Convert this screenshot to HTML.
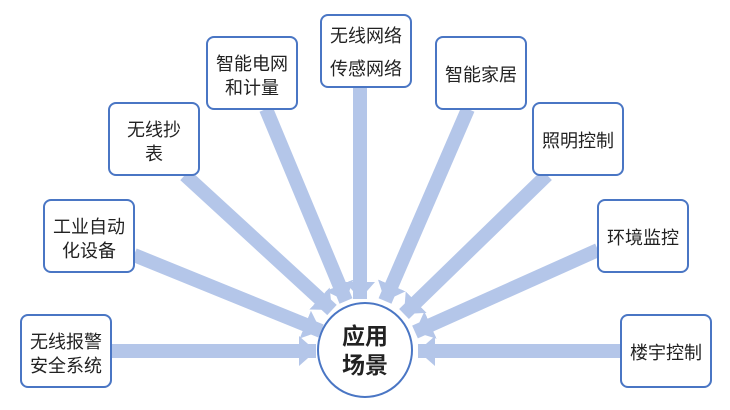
<!DOCTYPE html>
<html><head><meta charset="utf-8"><style>
html,body{margin:0;padding:0;background:#fff;}
svg{display:block;font-family:"Liberation Sans","Noto Sans CJK SC",sans-serif;}
</style></head><body>
<svg width="730" height="410" viewBox="0 0 730 410">
<defs>
<marker id="a" markerUnits="userSpaceOnUse" markerWidth="20" markerHeight="32" refX="17" refY="16" orient="auto">
<path d="M0,1 L17,16 L0,31 Z" fill="#b4c6e9"/>
</marker>
</defs>
<g stroke="#b4c6e9" stroke-width="14" fill="none" marker-end="url(#a)">
<line x1="111" y1="351" x2="316" y2="351"/>
<line x1="134" y1="255" x2="321" y2="331"/>
<line x1="185" y1="175" x2="332" y2="310"/>
<line x1="266" y1="109" x2="346" y2="301"/>
<line x1="360" y1="87" x2="360" y2="299"/>
<line x1="468" y1="109" x2="385" y2="301"/>
<line x1="547" y1="175" x2="404" y2="314"/>
<line x1="598" y1="250" x2="415" y2="332"/>
<line x1="621" y1="351" x2="418" y2="351"/>
</g>
<g fill="#fff" stroke="#4a76c4" stroke-width="2">
<rect x="21" y="315" width="90" height="72" rx="7"/>
<rect x="44" y="200" width="90" height="72" rx="7"/>
<rect x="109" y="103" width="90" height="72" rx="7"/>
<rect x="207" y="37" width="90" height="72" rx="7"/>
<rect x="321" y="15" width="90" height="72" rx="7"/>
<rect x="436" y="37" width="90" height="72" rx="7"/>
<rect x="533" y="103" width="90" height="72" rx="7"/>
<rect x="598" y="200" width="90" height="72" rx="7"/>
<rect x="621" y="315" width="90" height="72" rx="7"/>
<circle cx="365" cy="350" r="47"/>
</g>
<g font-size="18" fill="#222" text-anchor="middle">
<text x="66" y="348">无线报警</text><text x="66" y="372">安全系统</text>
<text x="89" y="233">工业自动</text><text x="89" y="257">化设备</text>
<text x="154" y="136">无线抄</text><text x="154" y="160">表</text>
<text x="252" y="70">智能电网</text><text x="252" y="94">和计量</text>
<text x="366" y="42">无线网络</text><text x="366" y="75">传感网络</text>
<text x="481" y="81">智能家居</text>
<text x="578" y="147">照明控制</text>
<text x="643" y="244">环境监控</text>
<text x="666" y="359">楼宇控制</text>
<text x="365" y="344" font-size="23" font-weight="bold">应用</text>
<text x="365" y="373" font-size="23" font-weight="bold">场景</text>
</g>
</svg>
</body></html>
